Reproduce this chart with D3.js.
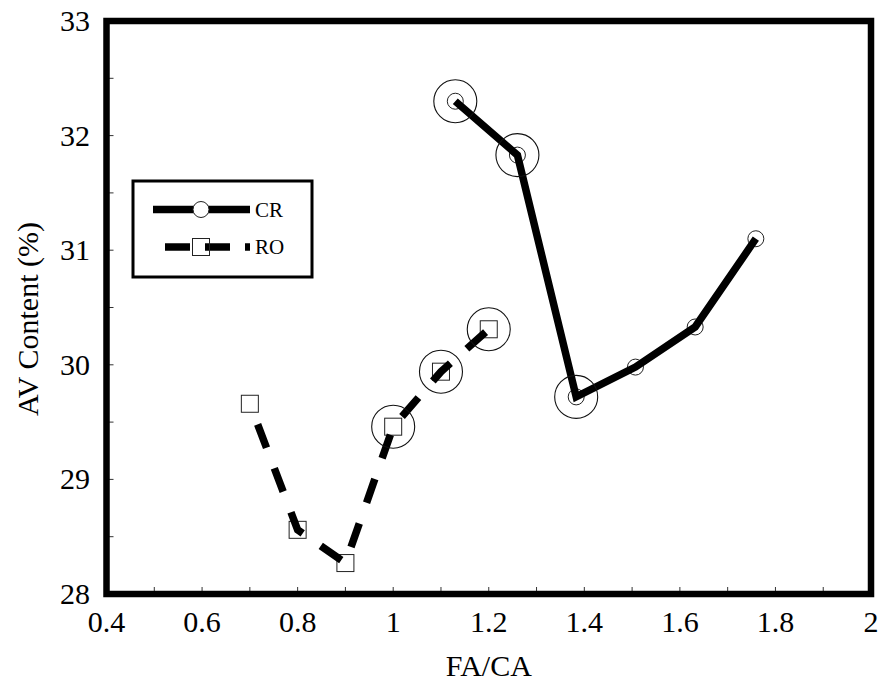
<!DOCTYPE html>
<html>
<head>
<meta charset="utf-8">
<script src="https://cdn.jsdelivr.net/npm/d3@7"></script>
<style>
  html, body { margin: 0; padding: 0; background: #fff; }
  svg { display: block; }
</style>
</head>
<body>
<svg id="chart" width="881" height="683"></svg>
<script>
// FA/CA ratio vs. AV content for the two mix-design methods
const crFA = [1.13, 1.26, 1.383, 1.507, 1.632, 1.759];
const crAV = [32.3, 31.83, 29.72, 29.98, 30.33, 31.1];
const crHighlight = [true, true, true, false, false, false];

const roFA = [0.7, 0.8, 0.9, 1.0, 1.1, 1.2];
const roAV = [29.66, 28.56, 28.27, 29.46, 29.94, 30.31];
const roHighlight = [false, false, false, true, true, true];

const xMajorTicks = [0.4, 0.6, 0.8, 1.0, 1.2, 1.4, 1.6, 1.8, 2.0];
const xMinorTicks = [0.5, 0.7, 0.9, 1.1, 1.3, 1.5, 1.7, 1.9];
const xTickLabels = ["0.4", "0.6", "0.8", "1", "1.2", "1.4", "1.6", "1.8", "2"];
const yMajorTicks = [28, 29, 30, 31, 32, 33];
const yMinorTicks = [28.5, 29.5, 30.5, 31.5, 32.5];
const yTickLabels = ["28", "29", "30", "31", "32", "33"];

const seriesNames = ["CR", "RO"];

const FONT = "'Liberation Serif', Tinos, 'Times New Roman', Times, 'Nimbus Roman', 'Nimbus Roman No9 L', FreeSerif, serif";

const svg = d3.select("#chart").attr("font-family", FONT);
const plot = { left: 106.5, right: 871, top: 21, bottom: 594 };

const x = d3.scaleLinear().domain([0.4, 2.0]).range([plot.left, plot.right]);
const y = d3.scaleLinear().domain([28, 33]).range([plot.bottom, plot.top]);

// inward tick marks on the bottom and left sides
const tickG = svg.append("g").attr("stroke", "#333").attr("stroke-width", 1);
tickG.selectAll("line.xt")
  .data(xMajorTicks.concat(xMinorTicks))
  .join("line")
  .attr("x1", d => x(d)).attr("x2", d => x(d))
  .attr("y1", plot.bottom).attr("y2", plot.bottom - 7);
tickG.selectAll("line.yt")
  .data(yMajorTicks.concat(yMinorTicks))
  .join("line")
  .attr("x1", plot.left).attr("x2", plot.left + 7)
  .attr("y1", d => y(d)).attr("y2", d => y(d));

// tick labels
svg.append("g").selectAll("text")
  .data(xMajorTicks)
  .join("text")
  .attr("font-family", FONT)
  .attr("x", d => x(d))
  .attr("y", 632)
  .attr("text-anchor", "middle")
  .attr("font-size", 30)
  .text((d, i) => xTickLabels[i]);

svg.append("g").selectAll("text")
  .data(yMajorTicks)
  .join("text")
  .attr("font-family", FONT)
  .attr("x", 90)
  .attr("y", d => y(d))
  .attr("dy", "0.33em")
  .attr("text-anchor", "end")
  .attr("font-size", 30)
  .text((d, i) => yTickLabels[i]);

// axis titles
svg.append("text")
  .attr("font-family", FONT)
  .attr("x", (plot.left + plot.right) / 2)
  .attr("y", 676)
  .attr("text-anchor", "middle")
  .attr("font-size", 30)
  .text("FA/CA");

svg.append("text")
  .attr("font-family", FONT)
  .attr("transform", "translate(38," + 319 + ") rotate(-90)")
  .attr("text-anchor", "middle")
  .attr("font-size", 30)
  .text("AV Content (%)");

// data lines
const line = d3.line().x(d => x(d[0])).y(d => y(d[1]));
const crPts = crFA.map((v, i) => [v, crAV[i]]);
const roPts = roFA.map((v, i) => [v, roAV[i]]);

const markerStroke = "#222";

// markers (hollow)
svg.append("g").selectAll("circle")
  .data(crPts)
  .join("circle")
  .attr("cx", d => x(d[0])).attr("cy", d => y(d[1]))
  .attr("r", 8)
  .attr("fill", "none").attr("stroke", markerStroke).attr("stroke-width", 1);

svg.append("g").selectAll("rect")
  .data(roPts)
  .join("rect")
  .attr("x", d => x(d[0]) - 8.5).attr("y", d => y(d[1]) - 8.5)
  .attr("width", 17).attr("height", 17)
  .attr("fill", "none").attr("stroke", markerStroke).attr("stroke-width", 1);

svg.append("path")
  .datum(crPts)
  .attr("d", line)
  .attr("fill", "none").attr("stroke", "#000")
  .attr("stroke-width", 7.5)
  .attr("stroke-linejoin", "miter")
  .attr("stroke-linecap", "butt");

svg.append("path")
  .datum(roPts)
  .attr("d", line)
  .attr("fill", "none").attr("stroke", "#000")
  .attr("stroke-width", 7.5)
  .attr("stroke-dasharray", "25,22")
  .attr("stroke-dashoffset", 25)
  .attr("stroke-linejoin", "miter")
  .attr("stroke-linecap", "butt");

// large rings around the highlighted points
const ringPts = crPts.filter((d, i) => crHighlight[i])
  .concat(roPts.filter((d, i) => roHighlight[i]));
svg.append("g").selectAll("circle")
  .data(ringPts)
  .join("circle")
  .attr("cx", d => x(d[0])).attr("cy", d => y(d[1]))
  .attr("r", 21.5)
  .attr("fill", "none").attr("stroke", "#111").attr("stroke-width", 1.1);

// plot frame
svg.append("rect")
  .attr("x", plot.left).attr("y", plot.top)
  .attr("width", plot.right - plot.left).attr("height", plot.bottom - plot.top)
  .attr("fill", "none").attr("stroke", "#000").attr("stroke-width", 6.5);

// legend
const lg = svg.append("g");
lg.append("rect")
  .attr("x", 133).attr("y", 181).attr("width", 179).attr("height", 96)
  .attr("fill", "#fff").attr("stroke", "#000").attr("stroke-width", 3);

const legendRows = [
  { name: seriesNames[0], y: 209.5, dashed: false },
  { name: seriesNames[1], y: 247, dashed: true }
];
legendRows.forEach(r => {
  const ln = lg.append("line")
    .attr("x1", 153).attr("x2", 250)
    .attr("y1", r.y).attr("y2", r.y)
    .attr("stroke", "#000").attr("stroke-width", 7.5);
  if (r.dashed) ln.attr("stroke-dasharray", "25,15").attr("stroke-dashoffset", 3 + 25);
  if (r.dashed) {
    lg.append("rect").attr("x", 201 - 8.5).attr("y", r.y - 8.5)
      .attr("width", 17).attr("height", 17)
      .attr("fill", "none").attr("stroke", markerStroke).attr("stroke-width", 1);
  } else {
    lg.append("circle").attr("cx", 201).attr("cy", r.y).attr("r", 8)
      .attr("fill", "#fff").attr("stroke", markerStroke).attr("stroke-width", 1);
  }
  lg.append("text")
    .attr("font-family", FONT)
    .attr("x", 255).attr("y", r.y).attr("dy", "0.35em")
    .attr("font-size", 21)
    .text(r.name);
});
</script>
</body>
</html>
